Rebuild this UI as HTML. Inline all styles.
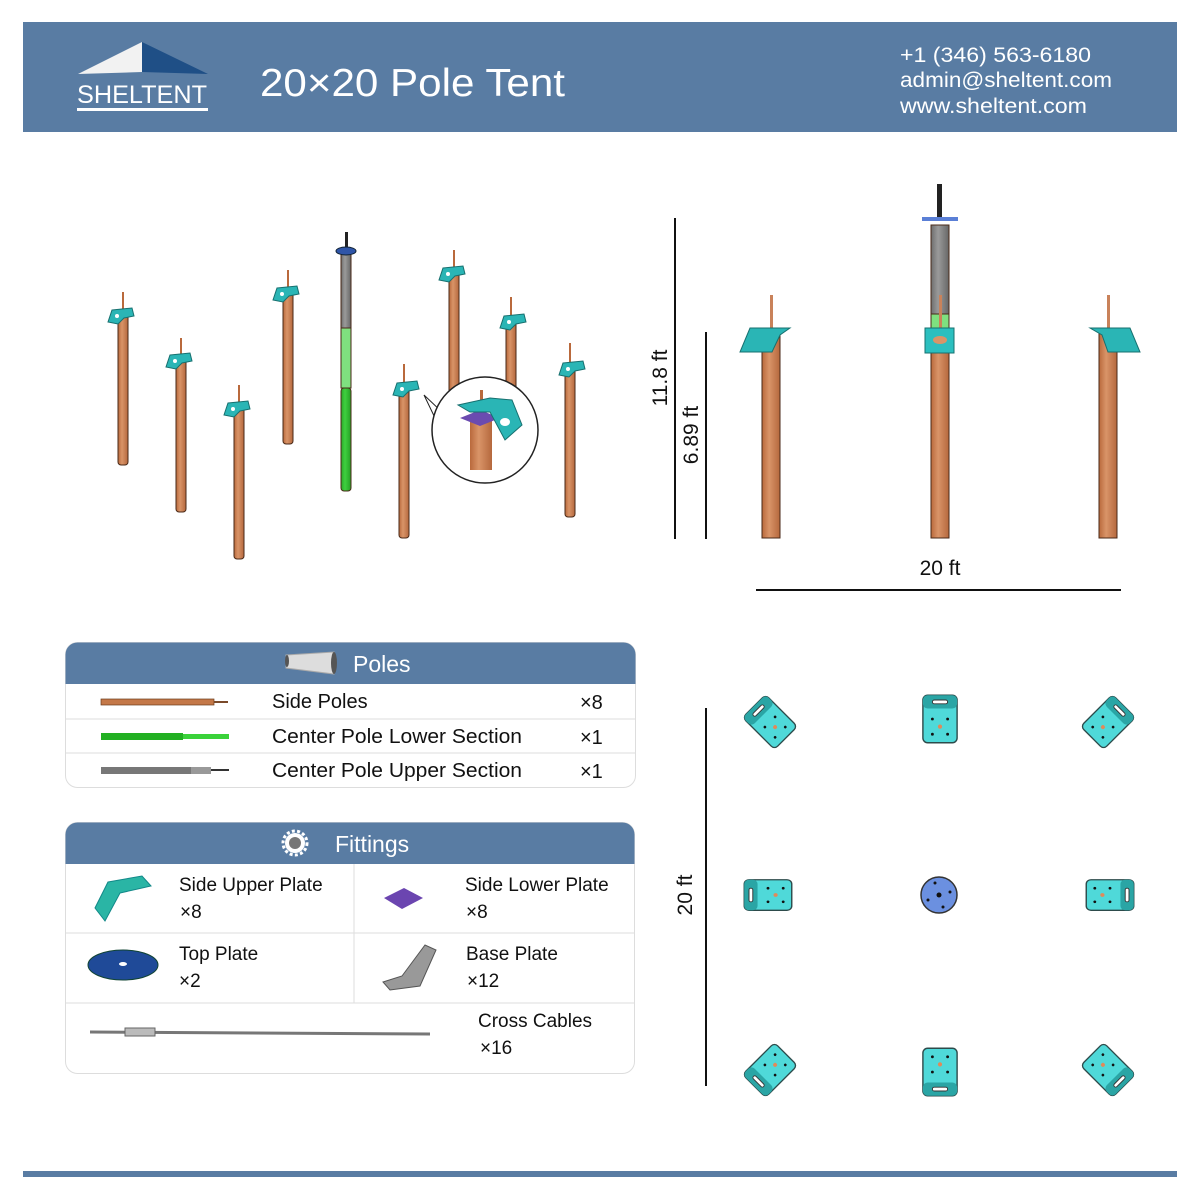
<!DOCTYPE html>
<html><head><meta charset="utf-8"><style>
body{margin:0;width:1200px;height:1200px;background:#fff;font-family:"Liberation Sans",sans-serif;overflow:hidden}
svg{position:absolute;left:0;top:0}
</style></head><body>
<svg width="1200" height="1200" viewBox="0 0 1200 1200" xmlns="http://www.w3.org/2000/svg" font-family="Liberation Sans, sans-serif">
<defs>
<linearGradient id="cu" x1="0" x2="1"><stop offset="0" stop-color="#b9693c"/><stop offset=".4" stop-color="#d99468"/><stop offset="1" stop-color="#b5683d"/></linearGradient>
<linearGradient id="gr" x1="0" x2="1"><stop offset="0" stop-color="#2aa52a"/><stop offset=".4" stop-color="#3fd03f"/><stop offset="1" stop-color="#24a024"/></linearGradient>
<linearGradient id="gy" x1="0" x2="1"><stop offset="0" stop-color="#6e6e6e"/><stop offset=".4" stop-color="#9a9a9a"/><stop offset="1" stop-color="#666"/></linearGradient>
<g id="bk"><path d="M-8,0 L12,-2 L14,6 L4,8 L-2,14 L-12,12 Z" fill="#2ab5b5" stroke="#17706f" stroke-width="1"/><circle cx="-3" cy="6" r="2" fill="#fff"/></g>
<g id="sq"><rect x="-25" y="-18" width="50" height="36" rx="5" fill="#4fd9d9" stroke="#2d4b4b" stroke-width="1.5"/><rect x="-25" y="-18" width="14" height="36" rx="5" fill="#2aa5a5"/><rect x="-20" y="-8" width="4" height="16" rx="2" fill="#fff" stroke="#333"/><circle cx="0" cy="-8" r="1.5" fill="#111"/><circle cx="16" cy="-8" r="1.5" fill="#111"/><circle cx="0" cy="8" r="1.5" fill="#111"/><circle cx="16" cy="8" r="1.5" fill="#111"/><circle cx="8" cy="0" r="2.2" fill="#e08a5a"/></g>
</defs>
<!-- header -->
<rect x="23" y="22" width="1154" height="110" fill="#597ca3"/>
<polygon points="78,74 142,42 142,72" fill="#f2f2f2"/>
<polygon points="142,42 208,74 142,72" fill="#1f4f86"/>
<text x="142" y="103" font-size="25" fill="#fff" text-anchor="middle" textLength="130" lengthAdjust="spacingAndGlyphs">SHELTENT</text>
<rect x="77" y="108" width="131" height="3" fill="#fff"/>
<text x="260" y="96" font-size="39" fill="#fff" textLength="305" lengthAdjust="spacingAndGlyphs">20×20 Pole Tent</text>
<text x="900" y="62" font-size="21" fill="#fff" textLength="191" lengthAdjust="spacingAndGlyphs">+1 (346) 563-6180</text>
<text x="900" y="87" font-size="21" fill="#fff" textLength="212" lengthAdjust="spacingAndGlyphs">admin@sheltent.com</text>
<text x="900" y="113" font-size="21" fill="#fff" textLength="187" lengthAdjust="spacingAndGlyphs">www.sheltent.com</text>
<rect x="23" y="1171" width="1154" height="6" fill="#597ca3"/>

<!-- left isometric poles -->
<g stroke="#4a2a18" stroke-width="1">
<rect x="118" y="312" width="10" height="153" rx="3" fill="url(#cu)"/>
<rect x="176" y="357" width="10" height="155" rx="3" fill="url(#cu)"/>
<rect x="234" y="405" width="10" height="154" rx="3" fill="url(#cu)"/>
<rect x="283" y="290" width="10" height="154" rx="3" fill="url(#cu)"/>
<rect x="449" y="270" width="10" height="125" rx="3" fill="url(#cu)"/>
<rect x="506" y="318" width="10" height="75" rx="3" fill="url(#cu)"/>
<rect x="399" y="385" width="10" height="153" rx="3" fill="url(#cu)"/>
<rect x="565" y="365" width="10" height="152" rx="3" fill="url(#cu)"/>
<rect x="341" y="250" width="10" height="78" fill="url(#gy)"/>
<rect x="341" y="328" width="10" height="60" fill="#7fe07f"/>
<rect x="341" y="388" width="10" height="103" rx="3" fill="url(#gr)"/>
</g>
<g fill="#b9693c"><rect x="122" y="292" width="2" height="20"/><rect x="180" y="338" width="2" height="19"/><rect x="238" y="385" width="2" height="20"/><rect x="287" y="270" width="2" height="20"/><rect x="453" y="250" width="2" height="20"/><rect x="510" y="297" width="2" height="21"/><rect x="403" y="364" width="2" height="21"/><rect x="569" y="343" width="2" height="22"/></g>
<rect x="345" y="232" width="3" height="18" fill="#222"/>
<ellipse cx="346" cy="251" rx="10" ry="4" fill="#2f55a8" stroke="#123" stroke-width="1"/>
<use href="#bk" x="120" y="310"/><use href="#bk" x="178" y="355"/><use href="#bk" x="236" y="403"/><use href="#bk" x="285" y="288"/><use href="#bk" x="451" y="268"/><use href="#bk" x="512" y="316"/><use href="#bk" x="405" y="383"/><use href="#bk" x="571" y="363"/>
<!-- callout -->
<polygon points="424,395 442,412 436,420" fill="#fff" stroke="#222"/>
<circle cx="485" cy="430" r="53" fill="#fff" stroke="#222" stroke-width="1.5"/>
<rect x="470" y="420" width="22" height="50" fill="url(#cu)"/>
<rect x="480" y="390" width="3" height="30" fill="#b9693c"/>
<polygon points="460,418 480,410 500,418 480,426" fill="#6b4bb0"/>
<polygon points="458,405 490,398 512,400 522,425 505,440 490,412 470,412" fill="#2ab5b5" stroke="#17706f"/>
<ellipse cx="505" cy="422" rx="5" ry="4" fill="#fff"/>

<!-- elevation -->
<g stroke="#111" stroke-width="2"><line x1="675" y1="218" x2="675" y2="539"/><line x1="706" y1="332" x2="706" y2="539"/><line x1="756" y1="590" x2="1121" y2="590"/></g>
<text transform="translate(667,378) rotate(-90)" font-size="21" fill="#111" text-anchor="middle">11.8 ft</text>
<text transform="translate(698,435) rotate(-90)" font-size="21" fill="#111" text-anchor="middle">6.89 ft</text>
<text x="940" y="575" font-size="21" fill="#111" text-anchor="middle">20 ft</text>
<g stroke="#4a2a18" stroke-width="1">
<rect x="762" y="330" width="18" height="208" fill="url(#cu)"/>
<rect x="1099" y="330" width="18" height="208" fill="url(#cu)"/>
<rect x="931" y="225" width="18" height="110" fill="url(#gy)"/>
<rect x="931" y="314" width="18" height="20" fill="#7fe07f"/>
<rect x="931" y="340" width="18" height="198" fill="url(#cu)"/>
</g>
<rect x="770" y="295" width="3" height="35" fill="#c9825a"/><rect x="1107" y="295" width="3" height="35" fill="#c9825a"/><rect x="939" y="295" width="3" height="40" fill="#c9825a"/>
<rect x="937" y="184" width="5" height="34" fill="#222"/>
<rect x="922" y="217" width="36" height="4" fill="#5a7fd6"/>
<polygon points="750,328 790,328 780,335 772,352 740,352" fill="#2ab5b5" stroke="#17706f"/>
<polygon points="1090,328 1130,328 1140,352 1108,352 1102,335" fill="#2ab5b5" stroke="#17706f"/>
<rect x="925" y="328" width="29" height="25" fill="#2bbfbf" stroke="#17706f"/><ellipse cx="940" cy="340" rx="7" ry="4" fill="#d99468"/>

<!-- plan -->
<line x1="706" y1="708" x2="706" y2="1086" stroke="#111" stroke-width="2"/>
<text transform="translate(692,895) rotate(-90)" font-size="21" fill="#111" text-anchor="middle">20 ft</text>
<use href="#sq" transform="translate(770,722) rotate(45) scale(0.9)"/>
<use href="#sq" transform="translate(940,719) rotate(90) scale(0.95)"/>
<use href="#sq" transform="translate(1108,722) rotate(135) scale(0.9)"/>
<use href="#sq" transform="translate(768,895) scale(0.95,0.85)"/>
<use href="#sq" transform="translate(1110,895) rotate(180) scale(0.95,0.85)"/>
<use href="#sq" transform="translate(770,1070) rotate(-45) scale(0.9)"/>
<use href="#sq" transform="translate(940,1072) rotate(-90) scale(0.95)"/>
<use href="#sq" transform="translate(1108,1070) rotate(-135) scale(0.9)"/>
<circle cx="939" cy="895" r="18" fill="#6b90e0" stroke="#333" stroke-width="1.5"/>
<circle cx="939" cy="895" r="2.5" fill="#111"/><circle cx="935" cy="883" r="1.5" fill="#111"/><circle cx="950" cy="892" r="1.5" fill="#111"/><circle cx="928" cy="900" r="1.5" fill="#111"/><circle cx="943" cy="907" r="1.5" fill="#111"/>

<!-- Poles table -->
<rect x="65.5" y="642.5" width="570" height="145" rx="12" fill="#fff" stroke="#ddd"/>
<path d="M65.5,684 V654.5 a12,12 0 0 1 12,-12 H623.5 a12,12 0 0 1 12,12 V684 Z" fill="#597ca3"/>
<line x1="66" y1="719" x2="635" y2="719" stroke="#ddd"/><line x1="66" y1="753" x2="635" y2="753" stroke="#ddd"/>
<polygon points="286,655 334,652 334,674 286,668" fill="#ddd" stroke="#aaa"/><ellipse cx="334" cy="663" rx="3" ry="11" fill="#555"/><ellipse cx="287" cy="661" rx="2" ry="6" fill="#555"/>
<text x="353" y="672" font-size="23" fill="#fff">Poles</text>
<rect x="101" y="699" width="113" height="6" fill="#c47848" stroke="#6b3a1a" stroke-width=".7"/><rect x="214" y="701" width="14" height="2" fill="#7a4a2a"/>
<rect x="101" y="733" width="82" height="7" fill="#22b022"/><rect x="183" y="734" width="46" height="5" fill="#3ad23a"/>
<rect x="101" y="767" width="90" height="7" fill="#777"/><rect x="191" y="767" width="20" height="7" fill="#999"/><rect x="211" y="769" width="18" height="2" fill="#333"/>
<g font-size="20" fill="#111"><text x="272" y="708">Side Poles</text><text x="272" y="743" textLength="250" lengthAdjust="spacingAndGlyphs">Center Pole Lower Section</text><text x="272" y="777" textLength="250" lengthAdjust="spacingAndGlyphs">Center Pole Upper Section</text>
<text x="580" y="709">×8</text><text x="580" y="744">×1</text><text x="580" y="778">×1</text></g>

<!-- Fittings table -->
<rect x="65.5" y="822.5" width="569" height="251" rx="12" fill="#fff" stroke="#ddd"/>
<path d="M65.5,864 V834.5 a12,12 0 0 1 12,-12 H622.5 a12,12 0 0 1 12,12 V864 Z" fill="#597ca3"/>
<line x1="66" y1="933" x2="634" y2="933" stroke="#ddd"/><line x1="66" y1="1003" x2="634" y2="1003" stroke="#ddd"/><line x1="354" y1="864" x2="354" y2="1003" stroke="#ddd"/>
<circle cx="295" cy="843" r="10" fill="#fff"/><circle cx="295" cy="843" r="12" fill="none" stroke="#fff" stroke-width="3" stroke-dasharray="3 2.3"/><circle cx="295" cy="843" r="6" fill="#777"/>
<text x="335" y="852" font-size="23" fill="#fff">Fittings</text>
<polygon points="108,882 142,876 151,886 120,893 105,921 95,908" fill="#2ab5a5" stroke="#188"/>
<polygon points="384,898 404,888 423,898 402,909" fill="#6b45b0"/>
<ellipse cx="123" cy="965" rx="35" ry="15" fill="#1f4a98" stroke="#143"/><ellipse cx="123" cy="964" rx="4" ry="2" fill="#fff"/>
<polygon points="383,982 402,976 425,945 436,950 420,986 390,990" fill="#999" stroke="#555"/>
<line x1="90" y1="1032" x2="430" y2="1034" stroke="#777" stroke-width="3"/><rect x="125" y="1028" width="30" height="8" fill="#bbb" stroke="#666"/>
<g font-size="19" fill="#111"><text x="179" y="891">Side Upper Plate</text><text x="180" y="918">×8</text>
<text x="465" y="891">Side Lower Plate</text><text x="466" y="918">×8</text>
<text x="179" y="960">Top Plate</text><text x="179" y="987">×2</text>
<text x="466" y="960">Base Plate</text><text x="467" y="987">×12</text>
<text x="478" y="1027">Cross Cables</text><text x="480" y="1054">×16</text></g>
</svg>
</body></html>
